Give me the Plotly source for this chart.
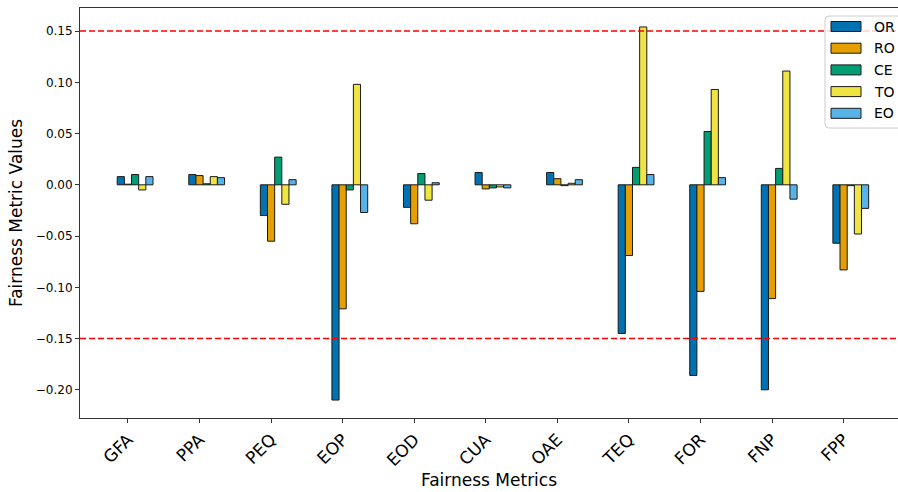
import plotly.graph_objects as go

# ---------------- data ----------------
metrics = ["GFA", "PPA", "PEQ", "EOP", "EOD", "CUA", "OAE", "TEQ", "FOR", "FNP", "FPP"]
series_names = ["OR", "RO", "CE", "TO", "EO"]
OR = [0.008, 0.010, -0.030, -0.210, -0.022, 0.012, 0.012, -0.145, -0.186, -0.200, -0.057]
RO = [0.0006, 0.009, -0.055, -0.121, -0.038, -0.004, 0.006, -0.069, -0.104, -0.111, -0.083]
CE = [0.010, 0.001, 0.027, -0.005, 0.011, -0.003, -0.0008, 0.017, 0.052, 0.016, -0.0008]
TO = [-0.005, 0.008, -0.019, 0.098, -0.015, -0.002, 0.0015, 0.154, 0.093, 0.111, -0.048]
EO = [0.008, 0.007, 0.005, -0.027, 0.002, -0.003, 0.005, 0.010, 0.007, -0.014, -0.023]
series_values = [OR, RO, CE, TO, EO]
colors = ["#0072B2", "#E69F00", "#009E73", "#F0E442", "#56B4E9"]
thresholds = [0.15, -0.15]
y_ticks = [-0.20, -0.15, -0.10, -0.05, 0.00, 0.05, 0.10, 0.15]

FONT = "DejaVu Sans"

# plot area geometry (pixels)
W, H = 898, 492
L, R, T, B = 80, 0, 8, 74
pw, ph = W - L - R, H - T - B
TICK_SHIFT = 0.1  # ticks sit under the second bar of each group, as in the original

fig = go.Figure()
xpos = list(range(len(metrics)))
for name, vals, col in zip(series_names, series_values, colors):
    fig.add_trace(go.Bar(
        x=xpos, y=vals, name=name,
        marker=dict(color=col, line=dict(color="#1a1a1a", width=1)),
        showlegend=False,
    ))

for th in thresholds:
    fig.add_shape(type="line", xref="paper", yref="y", x0=0, x1=1, y0=th, y1=th,
                  line=dict(color="red", width=1.5, dash="6px,3px"), layer="above")

# manual legend (matplotlib-style)
def px_x(px):
    return (px - L) / pw

def px_y(py):
    return (H - B - py) / ph

bx0, bx1, by0, by1 = 825, 905, 16, 128
r = 4
rx, ry = r / pw, r / ph
X0, X1, Y0, Y1 = px_x(bx0), px_x(bx1), px_y(by0), px_y(by1)
path = (f"M {X0+rx},{Y0} L {X1-rx},{Y0} Q {X1},{Y0} {X1},{Y0-ry} "
        f"L {X1},{Y1+ry} Q {X1},{Y1} {X1-rx},{Y1} L {X0+rx},{Y1} Q {X0},{Y1} {X0},{Y1+ry} "
        f"L {X0},{Y0-ry} Q {X0},{Y0} {X0+rx},{Y0} Z")
fig.add_shape(type="path", xref="paper", yref="paper", path=path,
              fillcolor="rgba(255,255,255,0.8)", line=dict(color="#cccccc", width=1), layer="above")
row0, step = 26.5, 21.7
for i, (name, col) in enumerate(zip(series_names, colors)):
    cy = row0 + i * step
    fig.add_shape(type="rect", xref="paper", yref="paper",
                  x0=px_x(831), x1=px_x(861), y0=px_y(cy - 5), y1=px_y(cy + 5),
                  fillcolor=col, line=dict(color="#1a1a1a", width=1), layer="above")
    fig.add_annotation(xref="paper", yref="paper", x=px_x(872), y=px_y(cy),
                       xanchor="left", yanchor="middle", text=name, showarrow=False,
                       font=dict(family=FONT, size=14, color="black"))

fig.update_layout(
    width=W, height=H,
    margin=dict(l=L, r=R, t=T, b=B, autoexpand=False),
    paper_bgcolor="white", plot_bgcolor="white",
    barmode="group", bargap=0.5, bargroupgap=0,
    font=dict(family=FONT, color="black"),
)
fig.update_xaxes(
    range=[-0.77, 10.66], tickmode="array",
    tickvals=[i - TICK_SHIFT for i in xpos], ticktext=metrics,
    tickangle=-45, tickfont=dict(size=17, family=FONT),
    showline=True, linecolor="#333333", linewidth=1, mirror=True,
    ticks="outside", ticklen=4, tickcolor="#333333", showgrid=False, zeroline=False,
    title=dict(text="Fairness Metrics", font=dict(size=17, family=FONT), standoff=3),
    automargin=False,
)
fig.update_yaxes(
    range=[-0.2275, 0.1725], tickmode="array", tickvals=y_ticks, tickformat=".2f",
    tickfont=dict(size=12, family=FONT),
    showline=True, linecolor="#333333", linewidth=1, mirror=False,
    ticks="outside", ticklen=4, tickcolor="#333333", showgrid=False, zeroline=False,
    title=dict(text="Fairness Metric Values", font=dict(size=17, family=FONT), standoff=8),
    automargin=False,
)

fig.write_html("out.html")
